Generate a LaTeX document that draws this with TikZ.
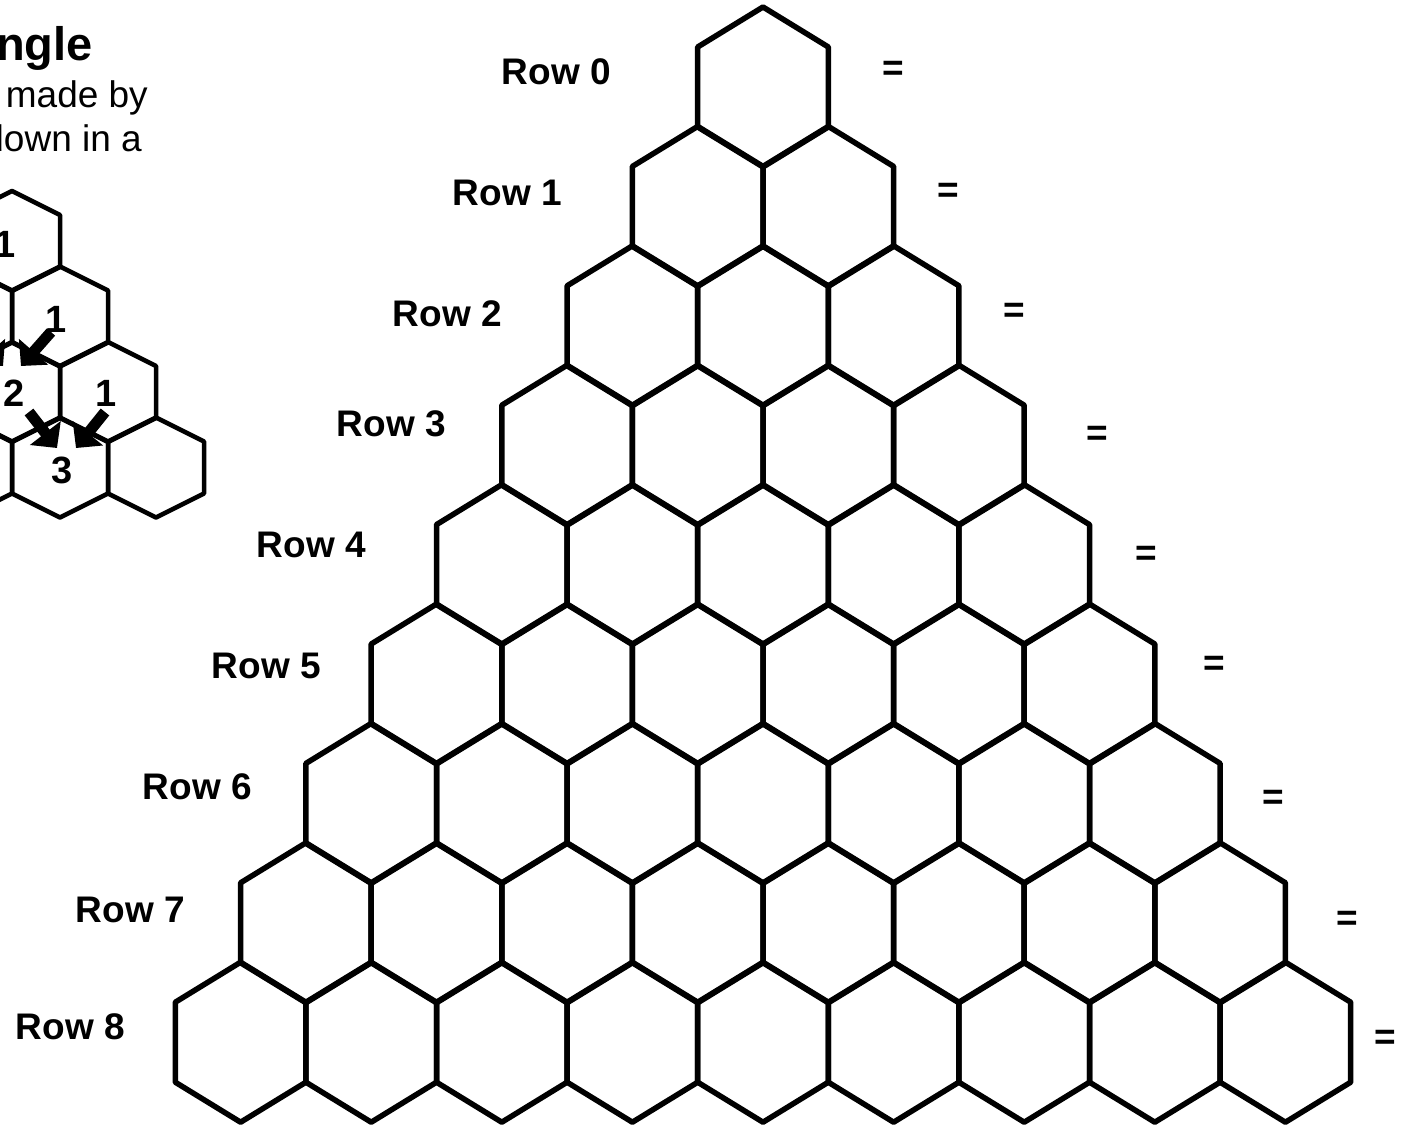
\documentclass[tikz,border=0pt]{standalone}
\usepackage{fontspec}
\setmainfont{Liberation Sans}
\usetikzlibrary{arrows.meta}

\begin{document}
\begin{tikzpicture}[
      x=1pt, y=-1pt,
      rowlabel/.style={anchor=east, inner sep=0pt, font=\fontsize{37}{40}\selectfont\bfseries},
      eqsign/.style={inner sep=0pt, font=\fontsize{37}{40}\selectfont\bfseries},
      numlabel/.style={inner sep=0pt, font=\fontsize{38}{40}\selectfont\bfseries},
      bodytext/.style={anchor=base east, inner sep=0pt, font=\fontsize{37}{44}\selectfont},
      bigarrow/.style={-{Triangle[length=19pt, width=38pt]}, line width=11pt},
      bighex/.pic={\draw[line width=5.5pt, line join=round]
        (0,-80) -- (65.3,-40) -- (65.3,40) -- (0,80) -- (-65.3,40) -- (-65.3,-40) -- cycle;},
      smallhex/.pic={\draw[line width=4.5pt, line join=round]
        (0,-50) -- (48,-26) -- (48,26) -- (0,50) -- (-48,26) -- (-48,-26) -- cycle;}
    ]
    \useasboundingbox (0,0) rectangle (1402,1126);
    \clip (0,0) rectangle (1402,1126);

    % heading, cut at the left edge
    \node[bodytext, font=\fontsize{47}{50}\selectfont\bfseries] (title) at (93,61) {ngle};
    \node[bodytext] (line1) at (148,108) {made by};
    \node[bodytext] (line2) at (142,152) {down in a};

    % small example triangle
    \foreach \r in {0,...,3}
      \foreach \k in {0,...,\r}
        \pic at ({12+(\k-\r/2)*96}, {241+\r*75.5}) {smallhex};

    \node[numlabel] (n0) at (5,244) {1};
    \node[numlabel] (n1) at (56,319) {1};
    \node[numlabel] (n2) at (14,393) {2};
    \node[numlabel] (n2r) at (106,393) {1};
    \node[numlabel] (n3) at (62,470) {3};

    \coordinate (a1s) at (51,332);  \coordinate (a1e) at (21,366);
    \coordinate (a2s) at (29,412);  \coordinate (a2e) at (57,448);
    \coordinate (a3s) at (105,412); \coordinate (a3e) at (76,448);
    \coordinate (a4s) at (-27,332); \coordinate (a4e) at (3,366);
    \coordinate (a5s) at (-5,412);  \coordinate (a5e) at (-33,448);
    \draw[bigarrow] (a1s) -- (a1e);
    \draw[bigarrow] (a2s) -- (a2e);
    \draw[bigarrow] (a3s) -- (a3e);
    \draw[bigarrow] (a4s) -- (a4e);
    \draw[bigarrow] (a5s) -- (a5e);

    % the big triangle, rows 0 to 8
    \foreach \r in {0,...,8}
      \foreach \k in {0,...,\r}
        \pic at ({763+(\k-\r/2)*130.6}, {87+\r*119.4}) {bighex};

    \foreach \n/\x/\y in {0/611/72, 1/562/193, 2/502/314, 3/446/424, 4/366/545,
                          5/321/666, 6/252/787, 7/185/910, 8/125/1027}
      \node[rowlabel] (row\n) at (\x,\y) {Row \n};

    \foreach \n/\x/\y in {0/893/71, 1/948/193, 2/1014/313, 3/1097/436, 4/1146/556,
                          5/1214/666, 6/1273/800, 7/1347/921, 8/1385/1040}
      \node[eqsign] (eq\n) at (\x,\y) {=};
  \end{tikzpicture}
\end{document}
